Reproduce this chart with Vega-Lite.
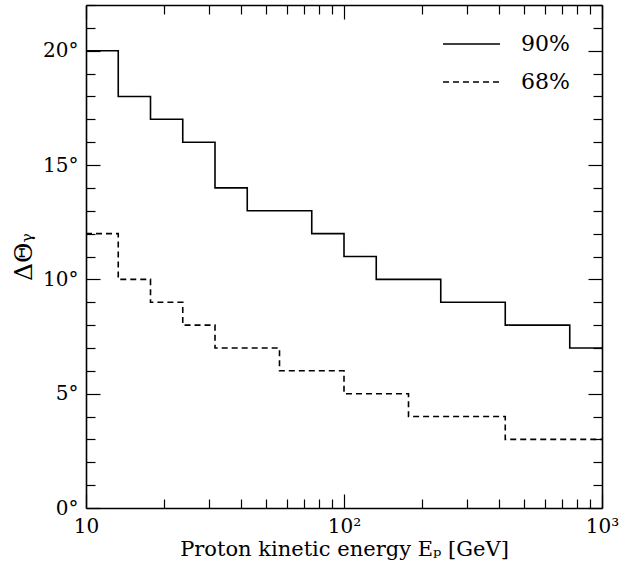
{
  "$schema": "https://vega.github.io/schema/vega-lite/v6.json",
  "width": 516,
  "height": 503,
  "autosize": "none",
  "padding": {"left": 86, "top": 5, "right": 18, "bottom": 70},
  "config": {
    "view": {"stroke": null},
    "font": "DejaVu Serif",
    "axis": {
      "grid": false,
      "domainColor": "black",
      "domainWidth": 1.6,
      "tickColor": "black",
      "tickWidth": 1.2,
      "labelColor": "black",
      "titleColor": "black",
      "labelFont": "DejaVu Serif",
      "titleFont": "DejaVu Serif",
      "labelFontSize": 20,
      "titleFontSize": 21,
      "titleFontWeight": "normal"
    },
    "legend": {
      "labelFont": "DejaVu Serif",
      "labelFontSize": 22,
      "labelColor": "black",
      "symbolStrokeColor": "black",
      "symbolStrokeWidth": 1.5,
      "symbolType": "stroke",
      "symbolSize": 3249,
      "labelOffset": 20,
      "clipHeight": 38,
      "rowPadding": 0,
      "padding": 0
    }
  },
  "data": {
    "values": [
      {"E": 10, "theta": 20, "level": "90%"},
      {"E": 13.335, "theta": 18, "level": "90%"},
      {"E": 17.783, "theta": 17, "level": "90%"},
      {"E": 23.714, "theta": 16, "level": "90%"},
      {"E": 31.623, "theta": 14, "level": "90%"},
      {"E": 42.17, "theta": 13, "level": "90%"},
      {"E": 56.234, "theta": 13, "level": "90%"},
      {"E": 74.989, "theta": 12, "level": "90%"},
      {"E": 100, "theta": 11, "level": "90%"},
      {"E": 133.35, "theta": 10, "level": "90%"},
      {"E": 177.83, "theta": 10, "level": "90%"},
      {"E": 237.14, "theta": 9, "level": "90%"},
      {"E": 316.23, "theta": 9, "level": "90%"},
      {"E": 421.7, "theta": 8, "level": "90%"},
      {"E": 562.34, "theta": 8, "level": "90%"},
      {"E": 749.89, "theta": 7, "level": "90%"},
      {"E": 1000, "theta": 7, "level": "90%"},
      {"E": 10, "theta": 12, "level": "68%"},
      {"E": 13.335, "theta": 10, "level": "68%"},
      {"E": 17.783, "theta": 9, "level": "68%"},
      {"E": 23.714, "theta": 8, "level": "68%"},
      {"E": 31.623, "theta": 7, "level": "68%"},
      {"E": 42.17, "theta": 7, "level": "68%"},
      {"E": 56.234, "theta": 6, "level": "68%"},
      {"E": 74.989, "theta": 6, "level": "68%"},
      {"E": 100, "theta": 5, "level": "68%"},
      {"E": 133.35, "theta": 5, "level": "68%"},
      {"E": 177.83, "theta": 4, "level": "68%"},
      {"E": 237.14, "theta": 4, "level": "68%"},
      {"E": 316.23, "theta": 4, "level": "68%"},
      {"E": 421.7, "theta": 3, "level": "68%"},
      {"E": 562.34, "theta": 3, "level": "68%"},
      {"E": 749.89, "theta": 3, "level": "68%"},
      {"E": 1000, "theta": 3, "level": "68%"}
    ]
  },
  "layer": [
    {
      "mark": {"type": "line", "interpolate": "step-after", "color": "black", "strokeWidth": 1.6},
      "encoding": {
        "x": {
          "field": "E", "type": "quantitative",
          "scale": {"type": "log", "domain": [10, 1000], "nice": false},
          "axis": {
            "orient": "bottom", "values": [10, 100, 1000], "tickSize": -14,
            "labelPadding": 22, "labelFlush": false,
            "labelExpr": "datum.value == 10 ? '10' : (datum.value == 100 ? '10²' : '10³')",
            "title": "Proton kinetic energy Eₚ [GeV]", "titlePadding": 2
          }
        },
        "y": {
          "field": "theta", "type": "quantitative",
          "scale": {"domain": [0, 22], "nice": false, "zero": true},
          "axis": {
            "orient": "left", "values": [0, 5, 10, 15, 20], "tickSize": -14,
            "labelPadding": 22, "labelFlush": false,
            "labelExpr": "datum.value + '°'",
            "title": "ΔΘᵧ", "titlePadding": 6, "titleFontSize": 25
          }
        },
        "strokeDash": {
          "field": "level", "type": "nominal",
          "scale": {"domain": ["90%", "68%"], "range": [[1, 0], [6, 4]]},
          "legend": {"title": null, "orient": "none", "legendX": 356, "legendY": 20}
        }
      }
    },
    {
      "mark": {"type": "point", "opacity": 0},
      "encoding": {
        "x": {
          "field": "E", "type": "quantitative",
          "axis": {"orient": "bottom", "values": [20, 30, 40, 50, 60, 70, 80, 90, 200, 300, 400, 500, 600, 700, 800, 900], "tickSize": -9, "labels": false, "domain": false, "title": null}
        },
        "y": {
          "field": "theta", "type": "quantitative",
          "axis": {"orient": "left", "values": [1, 2, 3, 4, 6, 7, 8, 9, 11, 12, 13, 14, 16, 17, 18, 19, 21, 22], "tickSize": -9, "labels": false, "domain": false, "title": null}
        }
      }
    },
    {
      "mark": {"type": "point", "opacity": 0},
      "encoding": {
        "x": {
          "field": "E", "type": "quantitative",
          "axis": {"orient": "top", "values": [10, 100, 1000], "tickSize": -14, "labels": false, "title": null}
        },
        "y": {
          "field": "theta", "type": "quantitative",
          "axis": {"orient": "right", "values": [0, 5, 10, 15, 20], "tickSize": -14, "labels": false, "title": null}
        }
      }
    },
    {
      "mark": {"type": "point", "opacity": 0},
      "encoding": {
        "x": {
          "field": "E", "type": "quantitative",
          "axis": {"orient": "top", "values": [20, 30, 40, 50, 60, 70, 80, 90, 200, 300, 400, 500, 600, 700, 800, 900], "tickSize": -9, "labels": false, "domain": false, "title": null}
        },
        "y": {
          "field": "theta", "type": "quantitative",
          "axis": {"orient": "right", "values": [1, 2, 3, 4, 6, 7, 8, 9, 11, 12, 13, 14, 16, 17, 18, 19, 21, 22], "tickSize": -9, "labels": false, "domain": false, "title": null}
        }
      }
    }
  ],
  "resolve": {"axis": {"x": "independent", "y": "independent"}}
}
